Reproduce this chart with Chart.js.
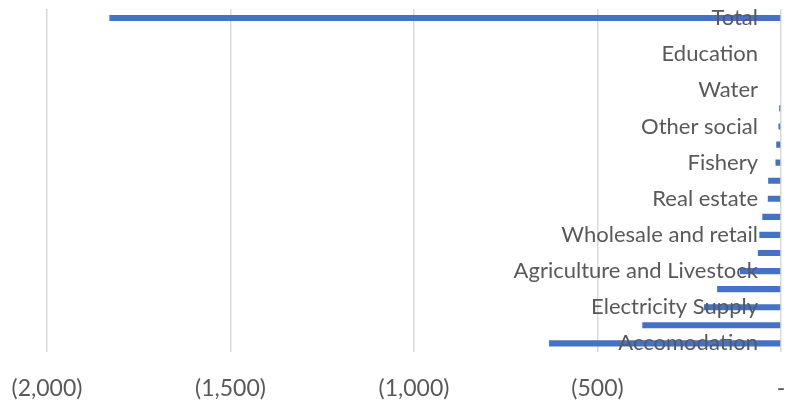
<!DOCTYPE html>
<html lang="en">
<head>
<meta charset="UTF-8">
<title>Sector totals</title>
<script src="https://cdn.jsdelivr.net/npm/chart.js"></script>
<style>
html,body{margin:0;padding:0;background:#fff;}
.wrap{width:794px;height:401px;position:relative;}
</style>
</head>
<body>
<div class="wrap"><canvas id="chart"></canvas></div>
<script>

// categories top to bottom, every second one left unlabelled
const sectors = ['Total','','Education','','Water','','Other social','','Fishery','',
    'Real estate','','Wholesale and retail','','Agriculture and Livestock','',
    'Electricity Supply','','Accomodation'];
const amounts = [-1830,0,0,0,0,-5,-7,-13,-15,-35,-36,-51,-59,-63,-112,-174,-210,-378,-632];
const xTicks = [-2000,-1500,-1000,-500,0];

const labelFont = '22px Lato';
const labelColor = '#595959';

function fmt(v){
    if(v===0) return '-';
    const s=Math.abs(v).toLocaleString('en-US');
    return v<0 ? '('+s+')' : s;
}

// category names sit just left of the zero line, on top of the bars
const categoryLabels = {
    id:'categoryLabels',
    afterDatasetsDraw(chart){
        const c=chart.ctx, y=chart.scales.y, area=chart.chartArea;
        c.save();
        c.font=labelFont;
        c.fillStyle=labelColor;
        c.textAlign='right';
        c.textBaseline='middle';
        sectors.forEach((name,i)=>{
            if(name) c.fillText(name, area.right-23, y.getPixelForValue(i));
        });
        c.restore();
    }
};

const ctx=document.getElementById('chart').getContext('2d');
new Chart(ctx,{
    type:'bar',
    data:{
        labels:sectors,
        datasets:[{
            data:amounts,
            backgroundColor:'#4472C4',
            barPercentage:0.34,
            categoryPercentage:1
        }]
    },
    options:{
        indexAxis:'y',
        responsive:true,
        maintainAspectRatio:false,
        animation:false,
        layout:{padding:{left:47,right:13,top:9,bottom:-23}},
        plugins:{legend:{display:false},tooltip:{enabled:false}},
        scales:{
            x:{
                min:-2000,max:0,
                afterBuildTicks:axis=>{axis.ticks=xTicks.map(v=>({value:v}));},
                // let the layout padding alone decide the plot edges
                afterFit:axis=>{axis.paddingLeft=0;axis.paddingRight=0;},
                grid:{color:'#d9d9d9',lineWidth:1.5,drawTicks:false},
                border:{display:false},
                ticks:{
                    color:labelColor,
                    font:{family:'Lato',size:23},
                    padding:22,
                    maxRotation:0,
                    callback:v=>fmt(v)
                }
            },
            y:{display:false,ticks:{autoSkip:false}}
        }
    },
    plugins:[categoryLabels]
});
</script>
</body>
</html>
